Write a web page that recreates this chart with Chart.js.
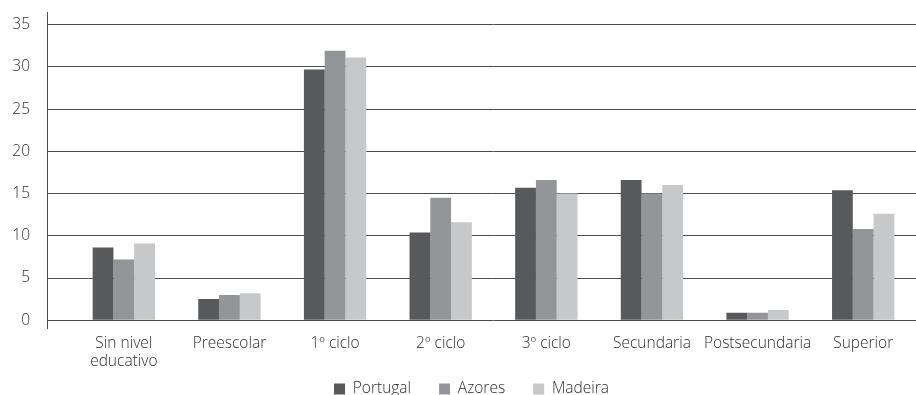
<!DOCTYPE html>
<html>
<head>
<meta charset="utf-8">
<script src="https://cdn.jsdelivr.net/npm/chart.js@4/dist/chart.umd.min.js"></script>
<style>
  html, body { margin: 0; padding: 0; background: #fff; overflow: hidden; }
  #wrap { width: 916px; height: 395px; position: relative; }
</style>
</head>
<body>
<div id="wrap"><canvas id="chart"></canvas></div>
<script>
// Education level categories (x axis)
const categories = [
  ['Sin nivel', 'educativo'],
  'Preescolar',
  '1º ciclo',
  '2º ciclo',
  '3º ciclo',
  'Secundaria',
  'Postsecundaria',
  'Superior'
];

// Percentage of population per level
const portugal = [8.6, 2.5, 29.7, 10.4, 15.7, 16.6, 0.9, 15.4];
const azores   = [7.2, 3.0, 31.9, 14.5, 16.6, 15.0, 0.9, 10.8];
const madeira  = [9.1, 3.2, 31.1, 11.6, 15.0, 16.0, 1.2, 12.6];

// Y axis tick values
const yTicks = [0, 5, 10, 15, 20, 25, 30, 35];

const seriesNames = ['Portugal', 'Azores', 'Madeira'];
const seriesColors = ['#58595b', '#939598', '#c7c8ca'];

const FONT = '"Open Sans", "Noto Sans", sans-serif';
const FONT_SIZE = 15.5;
const TEXT = '#2e2e2e';
const GRID = '#4d4d4d';
const LEGEND_PAD = 28;

// Vertical axis line left of the plot, crossing slightly below zero
const axisLine = {
  id: 'axisLine',
  beforeDatasetsDraw(chart) {
    const y = chart.scales.y;
    const ctx = chart.ctx;
    ctx.save();
    ctx.strokeStyle = GRID;
    ctx.lineWidth = 1;
    ctx.beginPath();
    ctx.moveTo(47.5, chart.chartArea.top);
    ctx.lineTo(47.5, y.getPixelForValue(0) + 9);
    ctx.stroke();
    ctx.restore();
  }
};

// Place the legend row near the bottom edge, offset toward the plot centre
const legendPlace = {
  id: 'legendPlace',
  afterLayout(chart) {
    const lg = chart.legend;
    const h = lg.bottom - lg.top;
    lg.top = 389 - LEGEND_PAD - FONT_SIZE / 2;
    lg.bottom = lg.top + h;
    lg.left += 13.5;
    lg.right += 13.5;
  }
};

new Chart(document.getElementById('chart'), {
  type: 'bar',
  data: {
    labels: categories,
    datasets: [portugal, azores, madeira].map((d, i) => ({
      label: seriesNames[i],
      data: d,
      backgroundColor: seriesColors[i],
      borderWidth: 0,
      categoryPercentage: 0.59,
      barPercentage: 1.0
    }))
  },
  options: {
    responsive: true,
    maintainAspectRatio: false,
    animation: false,
    layout: { padding: { left: 0, right: 0, top: 12, bottom: -43 } },
    plugins: {
      legend: {
        position: 'bottom',
        labels: {
          boxWidth: 11,
          boxHeight: 11,
          padding: LEGEND_PAD,
          color: TEXT,
          font: { family: FONT, size: FONT_SIZE, weight: '300' }
        }
      },
      tooltip: { enabled: false }
    },
    scales: {
      x: {
        grid: { display: false, drawTicks: false },
        border: { display: false },
        ticks: {
          color: TEXT,
          font: { family: FONT, size: FONT_SIZE, weight: '300', lineHeight: 1.17 },
          maxRotation: 0,
          autoSkip: false,
          padding: 14
        }
      },
      y: {
        min: 0,
        max: 36.5,
        afterBuildTicks(scale) {
          scale.ticks = yTicks.map(v => ({ value: v }));
        },
        afterFit(scale) {
          scale.width = 71;
          scale.paddingTop = 0;
          scale.paddingBottom = 0;
        },
        grid: {
          color: GRID,
          lineWidth: 1,
          drawTicks: true,
          tickLength: 23
        },
        border: { display: false },
        ticks: {
          color: TEXT,
          font: { family: FONT, size: FONT_SIZE, weight: '300' },
          padding: 18
        }
      }
    }
  },
  plugins: [axisLine, legendPlace]
});
</script>
</body>
</html>
